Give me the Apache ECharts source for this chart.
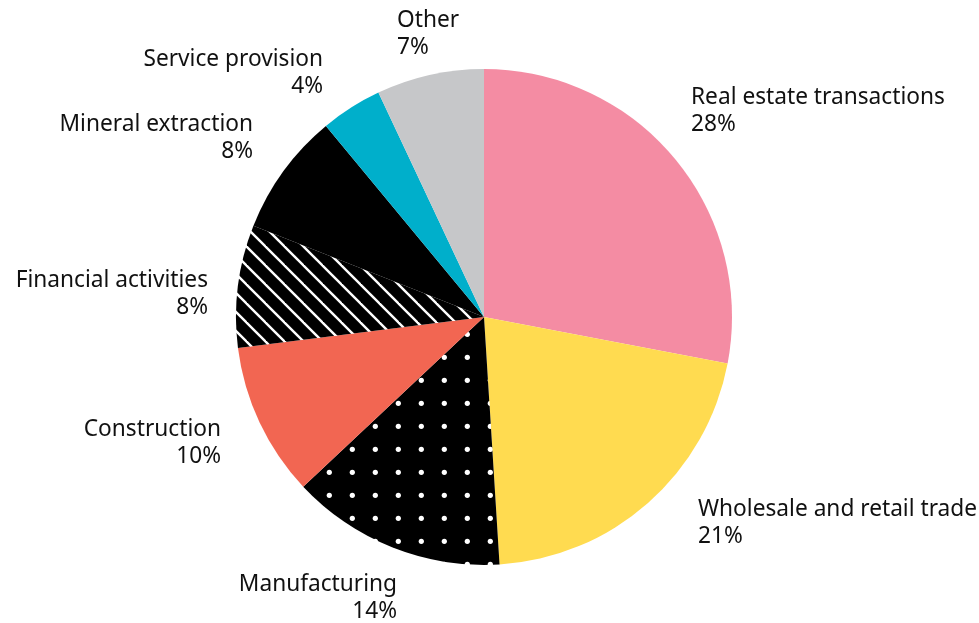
<!DOCTYPE html>
<html>
<head>
<meta charset="utf-8">
<script src="https://cdn.jsdelivr.net/npm/echarts@6/dist/echarts.min.js"></script>
<style>
  html, body { margin: 0; padding: 0; background: #ffffff; }
  #chart { width: 979px; height: 623px; }
</style>
</head>
<body>
<div id="chart"></div>
<script>
// Sector shares, clockwise from 12 o'clock
var categories = [
  'Real estate transactions',
  'Wholesale and retail trade',
  'Manufacturing',
  'Construction',
  'Financial activities',
  'Mineral extraction',
  'Service provision',
  'Other'
];
var shares = [28, 21, 14, 10, 8, 8, 4, 7];

// Tile for the dotted fill: white dots on black
function dotTile() {
  var s = 23;
  var c = document.createElement('canvas');
  c.width = s; c.height = s;
  var g = c.getContext('2d');
  g.fillStyle = '#000000';
  g.fillRect(0, 0, s, s);
  g.fillStyle = '#ffffff';
  g.beginPath();
  g.arc(7.3, 12.3, 2.6, 0, Math.PI * 2);
  g.fill();
  return c;
}

// Tile for the hatched fill: white diagonal stripes on black
function stripeTile() {
  var s = 19;
  var c = document.createElement('canvas');
  c.width = s; c.height = s;
  var g = c.getContext('2d');
  g.fillStyle = '#000000';
  g.fillRect(0, 0, s, s);
  g.strokeStyle = '#ffffff';
  g.lineWidth = 2.4;
  for (var k = -1; k <= 1; k++) {
    g.beginPath();
    g.moveTo(k * s - 2, -2);
    g.lineTo(k * s + s + 2, s + 2);
    g.stroke();
  }
  return c;
}

var fills = [
  '#F48CA3',
  '#FFDB50',
  { image: dotTile(), repeat: 'repeat' },
  '#F26652',
  { image: stripeTile(), repeat: 'repeat' },
  '#000000',
  '#00AFCB',
  '#C6C7C9'
];

// Label anchors: [x, y, align]
var labelAnchors = [
  [691, 111, 'left'],
  [698, 523, 'left'],
  [397, 598, 'right'],
  [221, 443, 'right'],
  [208, 294, 'right'],
  [253, 138, 'right'],
  [323, 73, 'right'],
  [397, 34, 'left']
];

var chart = echarts.init(document.getElementById('chart'), null, { renderer: 'canvas' });

chart.setOption({
  animation: false,
  backgroundColor: '#ffffff',
  series: [{
    type: 'pie',
    center: [484, 317],
    radius: [0, 248],
    startAngle: 90,
    clockwise: true,
    avoidLabelOverlap: false,
    itemStyle: { borderWidth: 0 },
    label: {
      show: true,
      position: 'outside',
      formatter: '{b}\n{c}%',
      fontFamily: 'Noto Sans',
      fontSize: 22.7,
      lineHeight: 27,
      color: '#111111'
    },
    labelLine: { show: false },
    labelLayout: function (params) {
      var a = labelAnchors[params.dataIndex];
      return { x: a[0], y: a[1], align: a[2], verticalAlign: 'middle' };
    },
    data: categories.map(function (name, i) {
      return { name: name, value: shares[i], itemStyle: { color: fills[i] } };
    })
  }]
});
</script>
</body>
</html>
